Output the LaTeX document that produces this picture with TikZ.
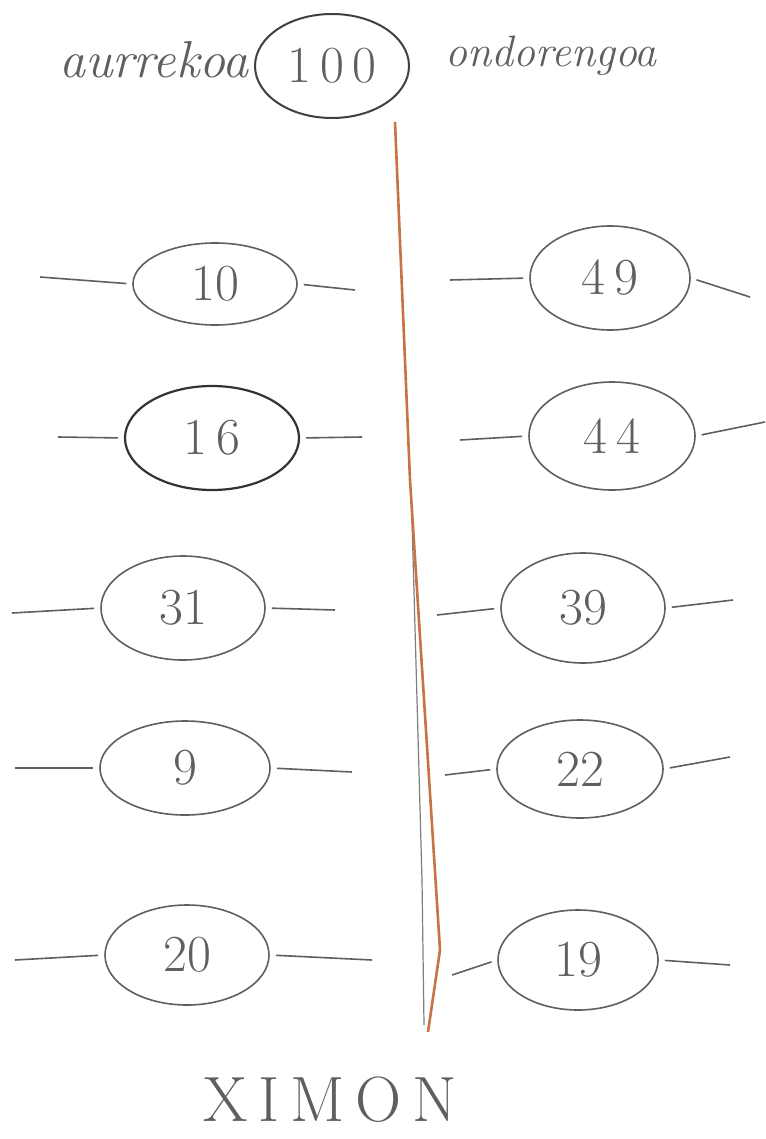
\documentclass[tikz,border=0pt]{standalone}
\usetikzlibrary{shapes.geometric}
\definecolor{pencil}{RGB}{95,95,95}
\definecolor{crayon}{RGB}{200,115,70}
\begin{document}
\begin{tikzpicture}[x=0.5pt,y=-0.5pt,
  bubble/.style={ellipse,draw=pencil,line width=0.8pt,inner sep=0pt,
    font=\fontsize{26}{28}\selectfont,text=pencil},
  wire/.style={draw=pencil,line width=0.8pt},
  word/.style={font=\itshape\fontsize{26}{28}\selectfont,text=pencil}]
\useasboundingbox[fill=white] (0,0) rectangle (765,1139);
% top
\node[bubble,minimum width=77pt,minimum height=52pt,line width=1pt,draw=black!75] (top) at (332,66) {1\,0\,0};
\node[word,anchor=east] (prev) at (256,60) {aurrekoa};
\node[word,anchor=west,font=\itshape\fontsize{22}{24}\selectfont] (next) at (438,56) {ondorengoa};
% divider
\coordinate (d1) at (395,122);
\coordinate (d2) at (410,480);
\coordinate (d3) at (440,950);
\coordinate (d4) at (428,1032);
\coordinate (g1) at (412,520);
\coordinate (g2) at (422,880);
\coordinate (g3) at (424,1025);
\draw[pencil!80,line width=0.6pt] (g1) -- (g2) -- (g3);
\draw[crayon,line width=1.3pt] (d1) -- (d2) -- (d3) -- (d4);
% left column
\node[bubble,minimum width=82pt,minimum height=41pt] (l1) at (215,284) {10};
\node[bubble,minimum width=87pt,minimum height=52pt,line width=1.1pt,draw=black!80] (l2) at (212,438) {1\,6};
\node[bubble,minimum width=82pt,minimum height=52pt] (l3) at (183,608) {31};
\node[bubble,minimum width=85pt,minimum height=47pt] (l4) at (185,768) {9};
\node[bubble,minimum width=82pt,minimum height=50pt] (l5) at (187,955) {20};
% right column
\node[bubble,minimum width=80pt,minimum height=52pt] (r1) at (610,278) {4\,9};
\node[bubble,minimum width=83pt,minimum height=54pt] (r2) at (612,436) {4\,4};
\node[bubble,minimum width=82pt,minimum height=55pt] (r3) at (583,608) {39};
\node[bubble,minimum width=83pt,minimum height=49pt] (r4) at (580,769) {22};
\node[bubble,minimum width=80pt,minimum height=50pt] (r5) at (578,960) {19};
% free ends
\coordinate (l1a) at (40,277);  \coordinate (l1b) at (355,290);
\coordinate (l2a) at (58,437);  \coordinate (l2b) at (362,437);
\coordinate (l3a) at (12,613);  \coordinate (l3b) at (335,610);
\coordinate (l4a) at (15,768);  \coordinate (l4b) at (352,772);
\coordinate (l5a) at (15,960);  \coordinate (l5b) at (372,960);
\coordinate (r1a) at (450,280); \coordinate (r1b) at (750,297);
\coordinate (r2a) at (460,440); \coordinate (r2b) at (765,422);
\coordinate (r3a) at (437,615); \coordinate (r3b) at (733,600);
\coordinate (r4a) at (445,775); \coordinate (r4b) at (730,757);
\coordinate (r5a) at (452,975); \coordinate (r5b) at (730,965);
\foreach \n in {l1,l2,l3,l4,l5,r1,r2,r3,r4,r5}{
  \draw[wire,shorten >=3pt] (\n a) -- (\n.west);
  \draw[wire,shorten >=3pt] (\n b) -- (\n.east);
}
% signature
\node[font=\fontsize{32}{34}\selectfont,text=pencil] (sig) at (330,1100) {X\,I\,M\,O\,N};
\end{tikzpicture}
\end{document}
